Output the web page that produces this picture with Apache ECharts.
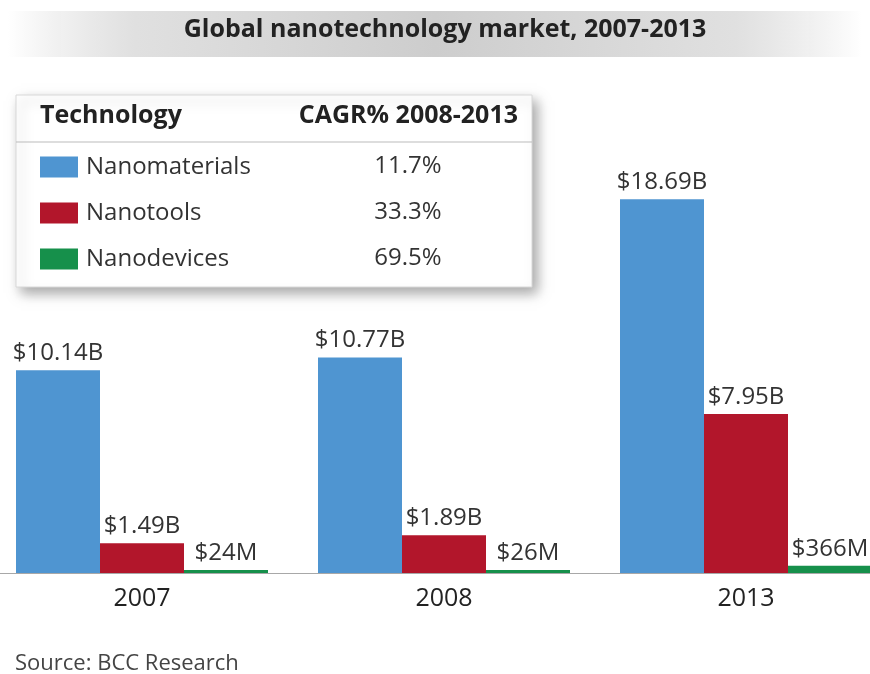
<!DOCTYPE html>
<html><head><meta charset="utf-8">
<script src="https://cdn.jsdelivr.net/npm/echarts@6/dist/echarts.min.js"></script>
<style>html,body{margin:0;padding:0;background:#fff}#c{width:870px;height:674px}</style>
</head><body><div id="c"></div>
<script>
const years = ['2007', '2008', '2013'];
const seriesNames = ['Nanomaterials', 'Nanotools', 'Nanodevices'];
const nanomaterials = [10.14, 10.77, 18.69];   // $ billions
const nanotools = [1.49, 1.89, 7.95];
const nanodevices = [0.024, 0.026, 0.366];
const cagr = ['11.7%', '33.3%', '69.5%'];
const colors = ['#4f95d1', '#b2162b', '#16904b'];

const FONT = '"Open Sans", "Noto Sans", sans-serif';
const fmt = p => p.value >= 1 ? '$' + p.value.toFixed(2) + 'B' : '$' + Math.round(p.value * 1000) + 'M';

const chart = echarts.init(document.getElementById('c'));
const mk = (i, data) => ({
  name: seriesNames[i], type: 'bar', data: data, barWidth: 84, barGap: '0%',
  barMinHeight: i === 2 ? 3 : 0,
  itemStyle: { color: colors[i] },
  label: { show: true, position: 'top', distance: 5, formatter: fmt,
    fontFamily: FONT, fontSize: 24, color: '#333' }
});

const rows = seriesNames.map((n, i) => ({
  type: 'text', x: 408, y: 154 + i * 46, z: 2,
  style: { text: cagr[i], font: '24px ' + FONT, fill: '#333', align: 'center', verticalAlign: 'top' }
}));

chart.setOption({
  animation: false,
  grid: { left: -9, width: 906, top: 73, bottom: 101, containLabel: false, outerBoundsMode: 'none' },
  xAxis: { type: 'category', data: years,
    axisLine: { lineStyle: { color: '#a8a8a8', width: 1 } }, axisTick: { show: false },
    axisLabel: { fontFamily: FONT, fontSize: 25, color: '#222', margin: 13 } },
  yAxis: { type: 'value', min: 0, max: 25, show: false, splitLine: { show: false } },
  legend: { orient: 'vertical', left: 35, top: 150, itemWidth: 38, itemHeight: 21, itemGap: 22,
    icon: 'rect', data: seriesNames,
    textStyle: { fontFamily: FONT, fontSize: 24, color: '#333', padding: [0, 0, 0, 3] } },
  graphic: [
    { type: 'rect', shape: { x: 8, y: 11, width: 854, height: 46 }, z: 0,
      style: { fill: new echarts.graphic.LinearGradient(0, 0, 1, 0, [
        { offset: 0, color: 'rgba(215,215,215,0)' },
        { offset: 0.15, color: '#e0e0e0' },
        { offset: 0.5, color: '#cdcdcd' },
        { offset: 0.85, color: '#e0e0e0' },
        { offset: 1, color: 'rgba(215,215,215,0)' }]) } },
    { type: 'text', x: 445, y: 17, z: 2,
      style: { text: 'Global nanotechnology market, 2007-2013', font: 'bold 25px ' + FONT, fill: '#222', align: 'center', verticalAlign: 'top' } },
    { type: 'rect', shape: { x: 16, y: 95, width: 516, height: 192 }, z: 0,
      style: { fill: '#fff', stroke: '#d8d8d8', lineWidth: 1,
        shadowBlur: 12, shadowOffsetX: 5, shadowOffsetY: 6, shadowColor: 'rgba(0,0,0,0.35)' } },
    { type: 'line', shape: { x1: 16, y1: 142, x2: 532, y2: 142 }, z: 1,
      style: { stroke: '#bbb', lineWidth: 1 } },
    { type: 'text', left: 40, top: 103, z: 2,
      style: { text: 'Technology', font: 'bold 25px ' + FONT, fill: '#222' } },
    { type: 'text', right: 870 - 518, top: 103, z: 2,
      style: { text: 'CAGR% 2008-2013', font: 'bold 25px ' + FONT, fill: '#222' } },
    ...rows,
    { type: 'text', left: 15, top: 653,
      style: { text: 'Source: BCC Research', font: '22px ' + FONT, fill: '#444' } }
  ],
  series: [mk(0, nanomaterials), mk(1, nanotools), mk(2, nanodevices)]
});
</script></body></html>
